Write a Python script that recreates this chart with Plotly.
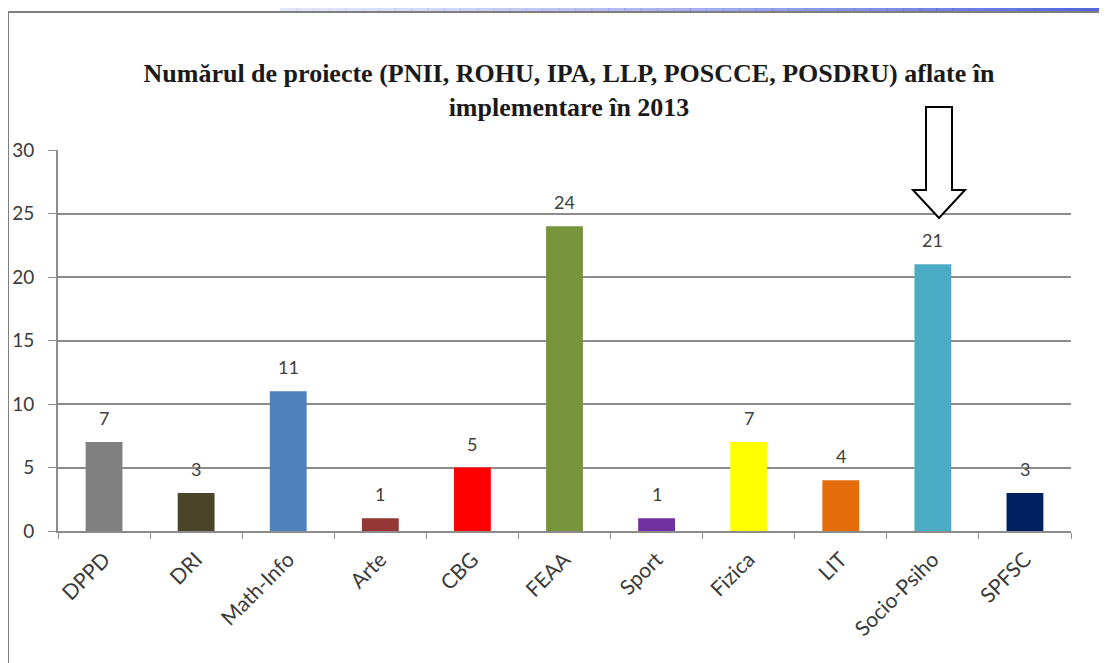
import plotly.graph_objects as go

categories = ["DPPD", "DRI", "Math-Info", "Arte", "CBG", "FEAA", "Sport",
              "Fizica", "LIT", "Socio-Psiho", "SPFSC"]
values = [7, 3, 11, 1, 5, 24, 1, 7, 4, 21, 3]
bar_colors = ["#808080", "#4a4429", "#4f81bd", "#953735", "#ff0000", "#77933c",
              "#7030a0", "#ffff00", "#e46c0a", "#4bacc6", "#002060"]
y_ticks = [0, 5, 10, 15, 20, 25, 30]
title_text = ("Numărul de proiecte (PNII, ROHU, IPA, LLP, POSCCE, POSDRU) aflate în"
              "<br>implementare în 2013")

# page offset (default body margin of the html page)
OFF = 8
W, H = 1107 - OFF, 663 - OFF
# plot area in page pixels: x 58..1071, y 150..531
ML, MR, MT, MB = 58 - OFF, (1107 - OFF) - (1071 - OFF), 150 - OFF, (663 - OFF) - (531 - OFF)
PW, PH = W - ML - MR, H - MT - MB


def px(xp):
    """page x pixel -> paper coordinate"""
    return (xp - OFF - ML) / PW


def py(yp):
    """page y pixel -> paper coordinate"""
    return (H - MB - (yp - OFF)) / PH


fig = go.Figure()
fig.add_trace(go.Bar(
    x=categories, y=values, marker=dict(color=bar_colors, line=dict(width=0)),
    width=0.4, hoverinfo="x+y",
))

for c, v in zip(categories, values):
    fig.add_annotation(x=c, y=v, text=str(v), showarrow=False, yanchor="middle",
                       yshift=24, font=dict(family="Lato", size=18, color="#404040"))

shapes = []
# blue gradient band at top (approximated with segments)
n_seg = 50
x_start, x_end = 280, 1100
seg = (x_end - x_start) / n_seg
for i in range(n_seg):
    x0 = x_start + i * seg
    t = i / (n_seg - 1)
    a = 0.15 + 0.8 * t ** 1.2
    shapes.append(dict(type="rect", xref="paper", yref="paper", x0=px(x0), x1=px(x0 + seg + 0.6),
                       y0=py(11.5), y1=py(7), line=dict(width=0),
                       fillcolor=f"rgba(75,95,225,{a:.2f})"))
# frame lines
shapes.append(dict(type="line", xref="paper", yref="paper", x0=px(8), x1=px(8),
                   y0=py(12), y1=py(700), line=dict(color="#7f7f7f", width=2)))
shapes.append(dict(type="line", xref="paper", yref="paper", x0=px(8), x1=px(1100),
                   y0=py(12), y1=py(12), line=dict(color="#7f7f7f", width=2)))

# open arrow pointing at highlighted bar
cx = 939
path = (f"M {px(cx-13)},{py(107)} L {px(cx+13)},{py(107)} L {px(cx+13)},{py(190)} "
        f"L {px(cx+26)},{py(190)} L {px(cx)},{py(218)} L {px(cx-26)},{py(190)} "
        f"L {px(cx-13)},{py(190)} Z")
shapes.append(dict(type="path", xref="paper", yref="paper", path=path,
                   fillcolor="white", line=dict(color="black", width=2)))

fig.update_layout(
    width=W, height=H,
    margin=dict(l=ML, r=MR, t=MT, b=MB, autoexpand=False),
    paper_bgcolor="white", plot_bgcolor="white",
    showlegend=False,
    bargap=0.6,
    shapes=shapes,
    title=dict(text=title_text, x=(569 - OFF) / W, xanchor="center",
               y=1 - (82 - OFF) / H, yanchor="middle",
               font=dict(family="Liberation Serif", size=26, color="#1a1a1a",
                         weight="bold")),
    font=dict(family="Lato", color="#404040"),
)
fig.update_xaxes(
    type="category", tickangle=-45, tickson="boundaries", ticks="outside",
    ticklen=6, tickcolor="#8c8c8c", showline=True, linecolor="#8c8c8c",
    linewidth=2, showgrid=False, ticklabelstandoff=6, automargin=False,
    tickfont=dict(family="Lato", size=21, color="#3a3a3a"),
)
fig.update_yaxes(
    range=[0, 30], tickvals=y_ticks, ticks="outside", ticklen=8,
    tickcolor="#8c8c8c", showline=True, linecolor="#8c8c8c", linewidth=2,
    showgrid=True, gridcolor="#8c8c8c", gridwidth=2, zeroline=False,
    ticklabelstandoff=10, automargin=False,
    tickfont=dict(family="Lato", size=19, color="#3a3a3a"),
)

fig.write_html("out.html")
